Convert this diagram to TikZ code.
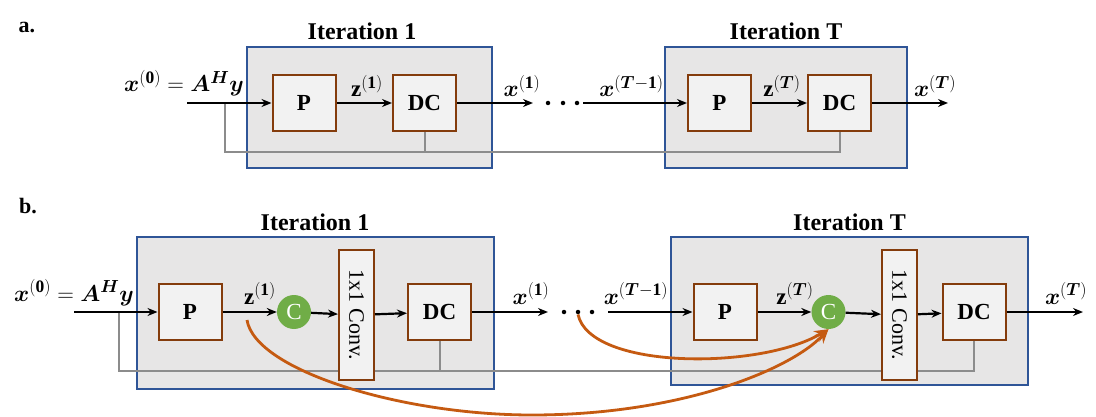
\RequirePackage{fix-cm}
\documentclass[tikz,border=0pt]{standalone}
\usepackage{amsmath}
\usepackage{bm}
\usepackage{fontspec}
\setmainfont{Liberation Serif}
\usetikzlibrary{arrows.meta,calc}
\DeclareMathSizes{23}{23}{17.5}{13}
\definecolor{boxfill}{HTML}{E7E6E6}
\definecolor{boxline}{HTML}{2F5597}
\definecolor{infill}{HTML}{F2F2F2}
\definecolor{inline}{HTML}{843C0C}
\definecolor{orng}{HTML}{C55A11}
\definecolor{fbgray}{HTML}{8C8C8C}
\definecolor{cgreen}{HTML}{70AD47}
\pgfdeclarelayer{bg}
\pgfdeclarelayer{mid}
\pgfsetlayers{bg,mid,main}
\tikzset{
  iterbox/.style={draw=boxline, fill=boxfill, line width=2pt, inner sep=0pt},
  blk/.style={draw=inline, fill=infill, line width=2pt, minimum width=63pt, minimum height=56pt, inner sep=0pt, font=\fontsize{23}{26}\selectfont\bfseries},
  convbox/.style={draw=inline, fill=infill, line width=2pt, minimum width=130pt, minimum height=35pt, inner sep=0pt, rotate=-90, font=\fontsize{22}{26}\selectfont},
  cnode/.style={circle, fill=cgreen, minimum size=34pt, inner sep=0pt, text=white, font=\fontsize{23}{26}\selectfont},
  flow/.style={line width=2.2pt, -{Stealth[length=10pt,width=8pt]}},
  fb/.style={draw=fbgray, line width=2pt},
  skipc/.style={draw=orng, line width=2.8pt, -{Stealth[length=14pt,width=12pt]}},
  lbl/.style={anchor=base, inner sep=0pt, font=\fontsize{23}{26}\selectfont},
  ttl/.style={anchor=base, inner sep=0pt, font=\fontsize{24}{28}\selectfont\bfseries},
  dotn/.style={circle, fill=black, minimum size=4.5pt, inner sep=0pt},
}
\begin{document}
\begin{tikzpicture}[x=1pt,y=-1pt]
\useasboundingbox (0,0) rectangle (1096,417);
\begin{pgfonlayer}{bg}
\fill[white] (0,0) rectangle (1096,417);
\end{pgfonlayer}

% ---------------- panel a ----------------
\node[lbl, font=\fontsize{22}{26}\selectfont\bfseries] (la) at (27,33) {a.};
\begin{pgfonlayer}{bg}
\node[iterbox, minimum width=245pt, minimum height=121pt] (ia1) at (369.4,107.4) {};
\node[iterbox, minimum width=242pt, minimum height=121pt] (iaT) at (786,107.5) {};
\end{pgfonlayer}
\node[ttl] (ta1) at (362,40) {Iteration 1};
\node[ttl] (taT) at (786,40) {Iteration T};

\node[blk] (pa) at (304,103) {P};
\node[blk] (da) at (424.5,103) {DC};
\node[blk] (pTa) at (719.5,103) {P};
\node[blk] (dTa) at (839.5,103) {DC};

\coordinate (ina) at (187,103);
\coordinate (sa) at (225,103);
\coordinate (oa1) at (533,103);
\coordinate (inTa) at (583,103);
\coordinate (oaT) at (948,103);
\coordinate (ga) at (0,152);

\node[dotn] (da1) at (548,103) {};
\node[dotn] (da2) at (563,103) {};
\node[dotn] (da3) at (577,103) {};

\begin{pgfonlayer}{mid}
\draw[fb] (sa) |- (dTa.south |- ga) -- (dTa.south);
\draw[fb] (da.south) -- (da.south |- ga);
\end{pgfonlayer}

\draw[flow] (ina) -- (pa);
\draw[flow] (pa) -- (da);
\draw[flow] (da) -- (oa1);
\draw[flow] (inTa) -- (pTa);
\draw[flow] (pTa) -- (dTa);
\draw[flow] (dTa) -- (oaT);

\node[lbl] (xa0) at (184,92) {$\bm{x}^{(\mathbf{0})} = \bm{A}^{\bm{H}}\bm{y}$};
\node[lbl] (za1) at (367,97) {$\mathbf{z}^{(\mathbf{1})}$};
\node[lbl] (xa1) at (522,97) {$\bm{x}^{(\mathbf{1})}$};
\node[lbl] (xaTm) at (631.5,97) {$\bm{x}^{(\bm{T}-\mathbf{1})}$};
\node[lbl] (zaT) at (782,97) {$\mathbf{z}^{(\bm{T})}$};
\node[lbl] (xaT) at (935,97) {$\bm{x}^{(\bm{T})}$};

% ---------------- panel b ----------------
\node[lbl, font=\fontsize{22}{26}\selectfont\bfseries] (lb) at (28,214) {b.};
\begin{pgfonlayer}{bg}
\node[iterbox, minimum width=357pt, minimum height=152pt] (ib1) at (315.4,313) {};
\node[iterbox, minimum width=357pt, minimum height=148pt] (ibT) at (849.5,311) {};
\end{pgfonlayer}
\node[ttl] (tb1) at (315,230) {Iteration 1};
\node[ttl] (tbT) at (849.5,230) {Iteration T};

\node[blk] (pb) at (190,312) {P};
\node[cnode] (cb) at (294,312) {C};
\node[convbox] (vb) at (356.5,315) {1x1 Conv.};
\node[blk] (db) at (439.5,312) {DC};

\node[blk] (pTb) at (725,312) {P};
\node[cnode] (cTb) at (828.5,312) {C};
\node[convbox] (vTb) at (899.5,315) {1x1 Conv.};
\node[blk] (dTb) at (974,312) {DC};

\coordinate (inb) at (74,312);
\coordinate (sb) at (119,312);
\coordinate (ob1) at (548,312);
\coordinate (inTb) at (608,312);
\coordinate (obT) at (1083,312);
\coordinate (gb) at (0,371);
\coordinate (zs) at (247,320);

\node[dotn] (db1) at (564,312) {};
\node[dotn] (db2) at (578,312) {};
\node[dotn] (db3) at (592,312) {};

\begin{pgfonlayer}{mid}
\draw[fb] (sb) |- (dTb.south |- gb) -- (dTb.south);
\draw[fb] (db.south) -- (db.south |- gb);
\end{pgfonlayer}

\draw[flow] (inb) -- (pb);
\draw[flow] (pb) -- (cb);
\draw[flow] (cb) -- (vb);
\draw[flow] (vb) -- (db);
\draw[flow] (db) -- (ob1);
\draw[flow] (inTb) -- (pTb);
\draw[flow] (pTb) -- (cTb);
\draw[flow] (cTb) -- (vTb);
\draw[flow] (vTb) -- (dTb);
\draw[flow] (dTb) -- (obT);

\node[lbl] (xb0) at (74,301) {$\bm{x}^{(\mathbf{0})} = \bm{A}^{\bm{H}}\bm{y}$};
\node[lbl] (zb1) at (260,304) {$\mathbf{z}^{(\mathbf{1})}$};
\node[lbl] (xb1) at (531,304) {$\bm{x}^{(\mathbf{1})}$};
\node[lbl] (xbTm) at (636,304) {$\bm{x}^{(\bm{T}-\mathbf{1})}$};
\node[lbl] (zbT) at (795,304) {$\mathbf{z}^{(\bm{T})}$};
\node[lbl] (xbT) at (1066,304) {$\bm{x}^{(\bm{T})}$};

\draw[skipc] (zs) .. controls (255,370) and (400,415) .. (532,415)
  .. controls (680,415) and (790,370) .. (cTb.south);
\draw[skipc] (db2.south) .. controls (590,370) and (760,370) .. (cTb.south);
\end{tikzpicture}
\end{document}
